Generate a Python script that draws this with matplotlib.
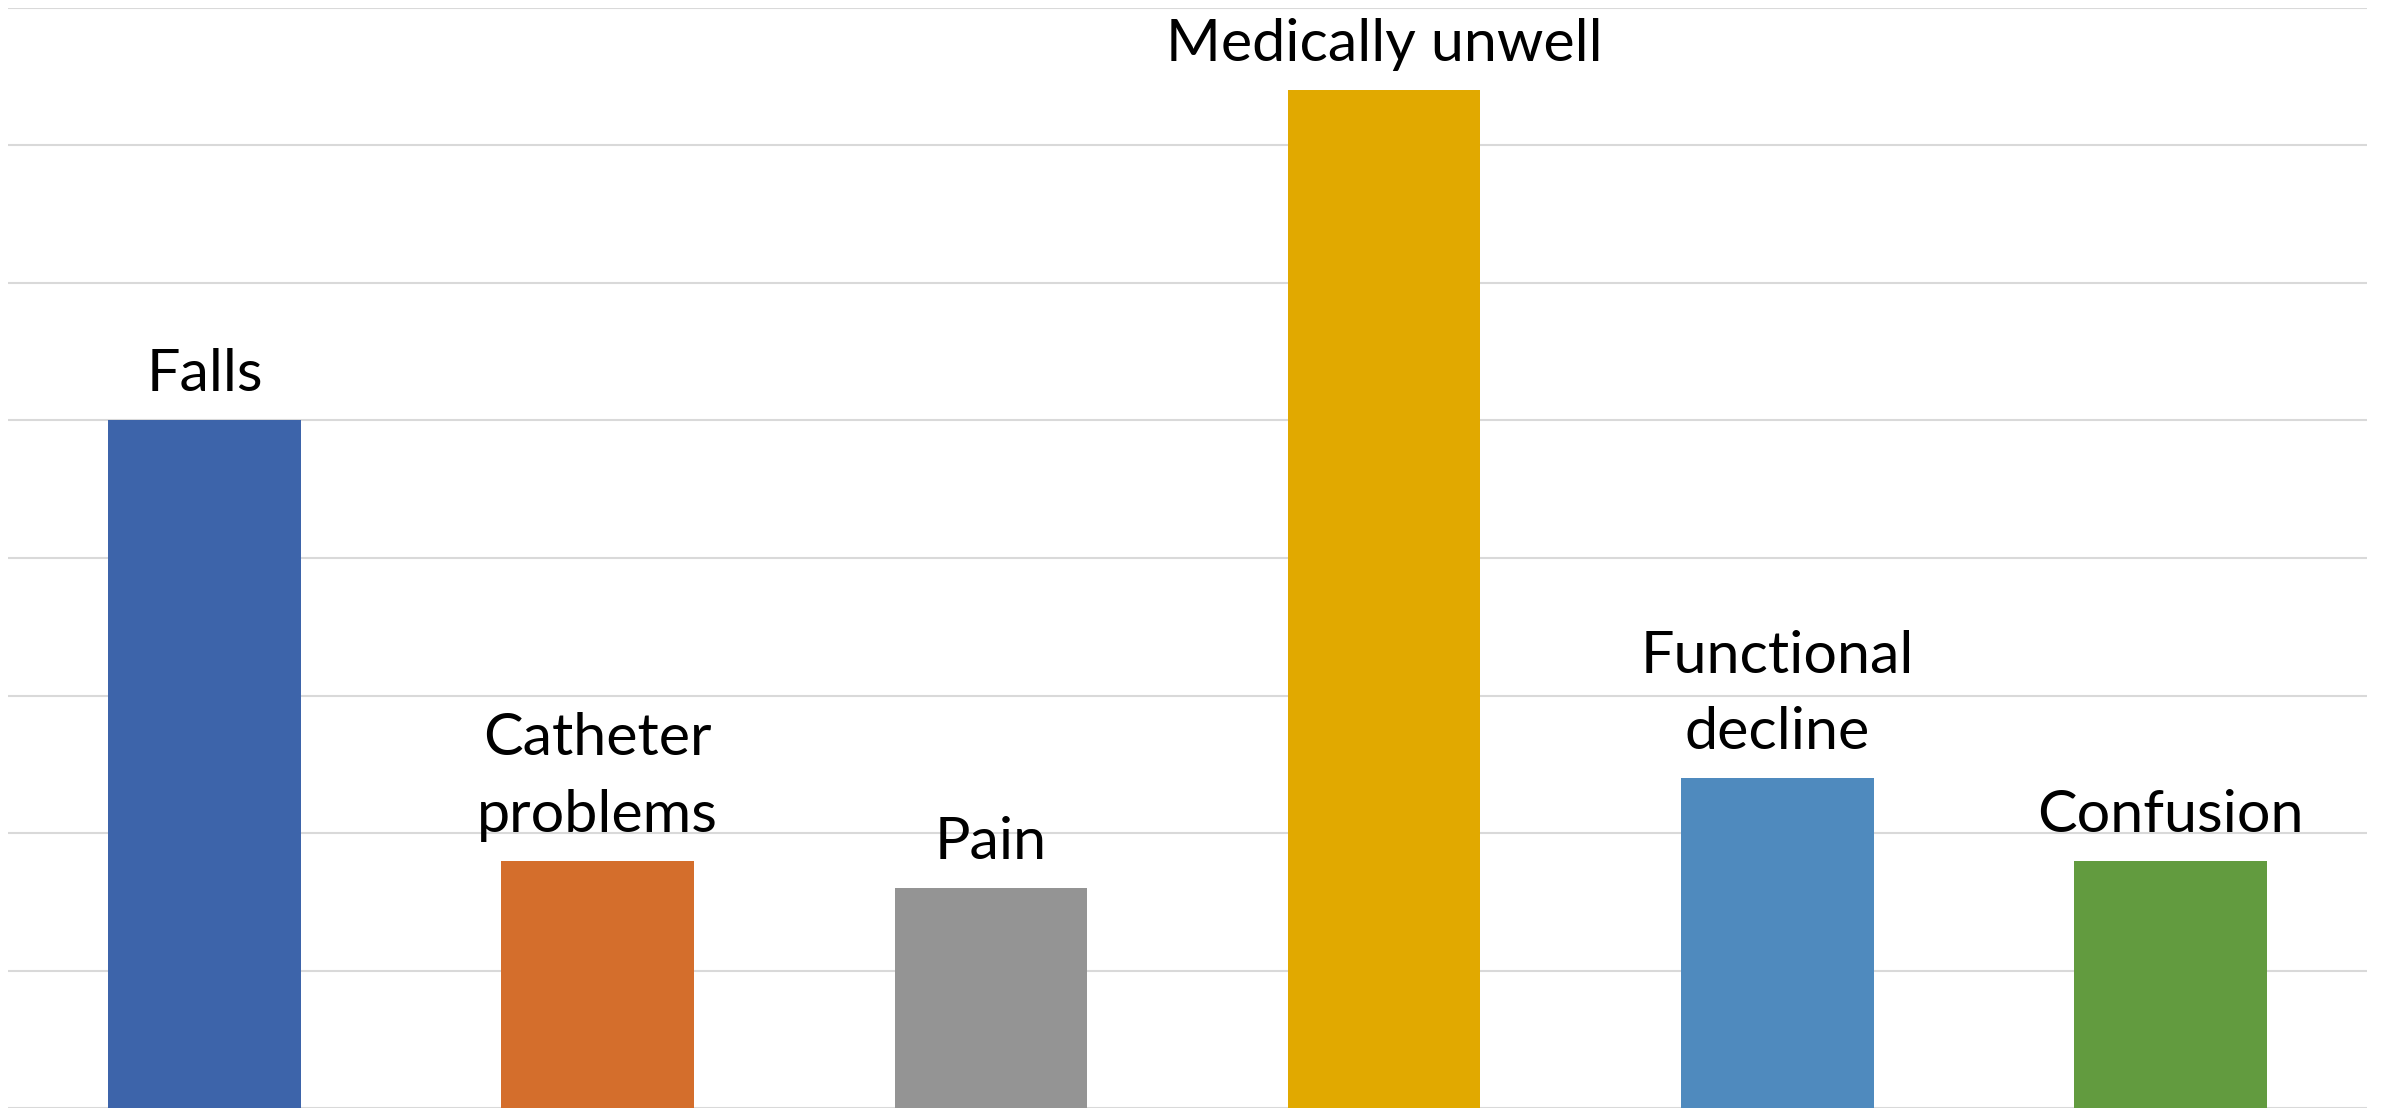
import matplotlib
matplotlib.use("Agg")
import matplotlib.pyplot as plt

categories = ["Falls", "Catheter\nproblems", "Pain", "Medically unwell",
              "Functional\ndecline", "Confusion"]
values = [25, 9, 8, 37, 12, 9]
colors = ["#3D64AA", "#D46E2C", "#949494", "#E1A900", "#4F8ABE", "#629B3F"]
y_ticks = [0, 5, 10, 15, 20, 25, 30, 35, 40]

DPI = 100
W, H = 2387, 1109
fig = plt.figure(figsize=(W / DPI, H / DPI), dpi=DPI)
left_px, right_px, top_px, bottom_px = 8, 2367, 7.5, 1108.3
ax = fig.add_axes([left_px / W, (H - bottom_px) / H,
                   (right_px - left_px) / W, (bottom_px - top_px) / H])

x = list(range(len(categories)))
ax.bar(x, values, width=0.49, color=colors, zorder=2)
ax.set_xlim(-0.5, len(categories) - 0.5)
ax.set_ylim(0, 40)
ax.set_yticks(y_ticks)
ax.yaxis.grid(True, color="#D9D9D9", linewidth=1.5, zorder=0)
ax.set_axisbelow(True)
ax.tick_params(left=False, bottom=False, labelleft=False, labelbottom=False)
for s in ax.spines.values():
    s.set_visible(False)

for xi, v, lab in zip(x, values, categories):
    ax.annotate(lab, xy=(xi, v), xytext=(0, 29),
                textcoords="offset pixels", ha="center", va="baseline",
                fontsize=42.7, family=["Lato", "DejaVu Sans"], color="black",
                linespacing=1.54, multialignment="center",
                annotation_clip=False)

fig.savefig("out.png", dpi=DPI)
